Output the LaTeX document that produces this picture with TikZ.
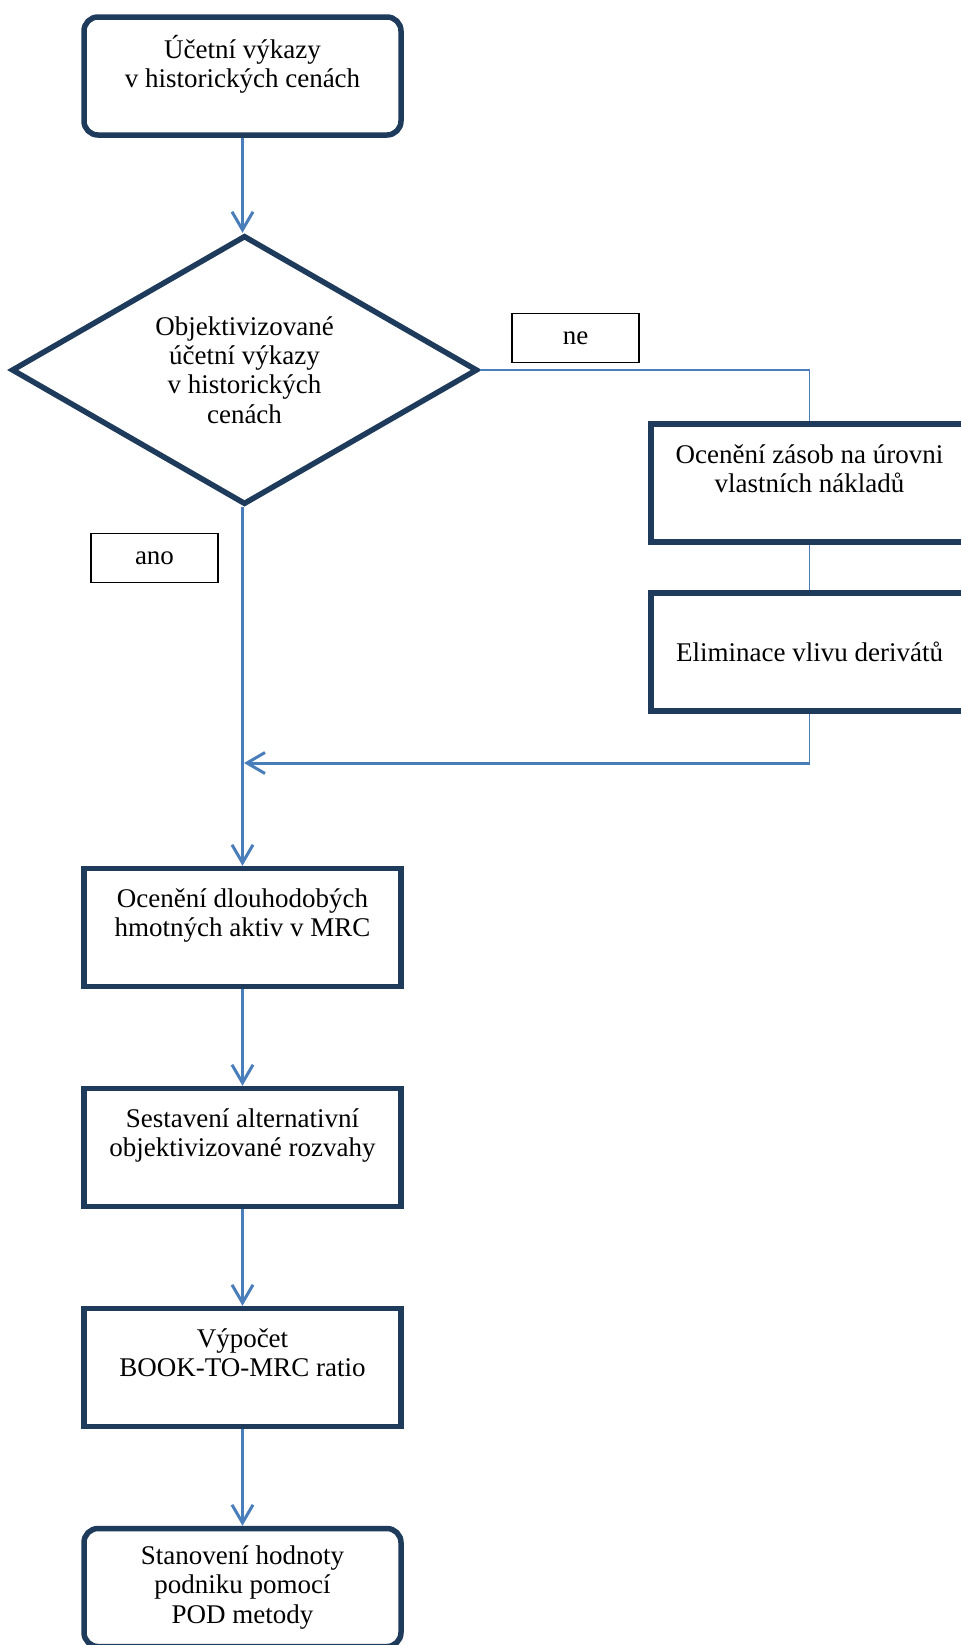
\documentclass[tikz,border=0pt]{standalone}
\usepackage{fontspec}
\setmainfont{Liberation Serif}
\usetikzlibrary{shapes.geometric, positioning, arrows.meta}
\definecolor{boxline}{HTML}{1F3B5C}
\definecolor{arrowline}{HTML}{4A7EBB}
\tikzset{
  >={Straight Barb[length=9pt,width=10.5pt]},
  every node/.style={font=\fontsize{13.5pt}{14.7pt}\selectfont, align=center},
  block/.style={draw=boxline, line width=2.75pt, minimum width=158.5pt, minimum height=59pt, inner sep=0pt},
  terminal/.style={block, rounded corners=7pt},
  decision/.style={diamond, draw=boxline, line width=2.75pt, aspect=1.73,
    minimum width=233pt, minimum height=134.5pt, inner sep=0pt},
  tag/.style={draw=black, line width=0.65pt, minimum width=63.5pt, minimum height=24.5pt, inner sep=0pt},
  flow/.style={->, draw=arrowline, line width=1.5pt},
  link/.style={draw=arrowline, line width=0.65pt},
}

\begin{document}
\begin{tikzpicture}
      \useasboundingbox (0,0) rectangle (480pt,-822.5pt);

      \node[terminal] (b0) at (121.25pt,-38pt) {Účetní výkazy\\v historických cenách\\\mbox{}};
      \node[decision, node distance=147pt, below of=b0, xshift=1pt] (d0) {Objektivizované\\účetní výkazy\\v historických\\cenách};
      \node[tag, node distance=165.5pt, right of=d0, yshift=16pt] (ne) {ne};
      \node[tag, node distance=94pt, below of=d0, xshift=-45pt] (ano) {ano};
      \node[block, node distance=282.5pt, right of=d0, yshift=-56.5pt] (r1) {Ocenění zásob na úrovni\\vlastních nákladů\\\mbox{}};
      \node[block, node distance=84.5pt, below of=r1] (r2) {Eliminace vlivu derivátů};
      \node[block, node distance=278.75pt, below of=b0, yshift=-147pt] (b1) {Ocenění dlouhodobých\\hmotných aktiv v MRC\\\mbox{}};
      \node[block, node distance=110pt, below of=b1] (b2) {Sestavení alternativní\\objektivizované rozvahy\\\mbox{}};
      \node[block, node distance=110pt, below of=b2] (b3) {Výpočet\\BOOK-TO-MRC ratio\\\mbox{}};
      \node[terminal, node distance=110pt, below of=b3] (b4) {Stanovení hodnoty\\podniku pomocí\\POD metody};

      \coordinate[node distance=55.5pt, below of=r2] (j0);
      \coordinate (m0) at (b1.north |- j0);

      \draw[flow] (b0) -- (b0 |- d0.north);
      \draw[flow] (d0.south -| b1) -- (b1);
      \draw[flow] (b1) -- (b2);
      \draw[flow] (b2) -- (b3);
      \draw[flow] (b3) -- (b4);
      \draw[link] (d0.east) -| (r1.north);
      \draw[link] (r1) -- (r2);
      \draw[link] (r2) -- (j0);
      \draw[flow, shorten >=0.75pt] (j0) -- (m0);
\end{tikzpicture}
\end{document}
